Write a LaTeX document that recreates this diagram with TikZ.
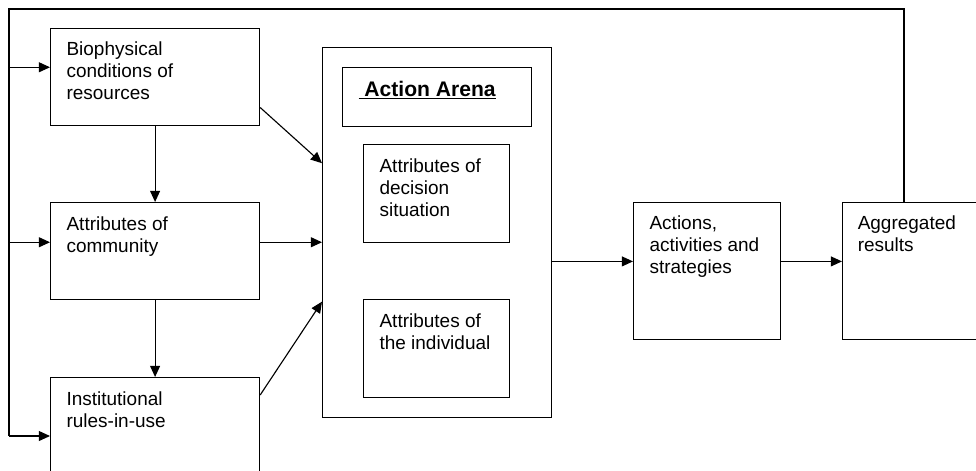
\documentclass[tikz,border=0pt]{standalone}
\usepackage{fontspec}
\setmainfont{Liberation Sans}
\usetikzlibrary{calc,positioning,arrows.meta}

\begin{document}
\begin{tikzpicture}[x=0.025cm,y=-0.025cm,line width=0.8pt,
  box/.style={draw,rectangle,anchor=north west,inner sep=0pt},
  txt/.style={inner sep=0pt,align=left,font=\fontsize{13.5}{15.6}\selectfont},
  arr/.style={-{Triangle[length=0.28cm,width=0.25cm]}}]
  \useasboundingbox (0,0) rectangle (976,470);
  \clip (0,0) rectangle (976,470);
  \node[box,minimum width=5.225cm,minimum height=2.425cm] (bio) at (50,28) {};
  \node[box,minimum width=5.225cm,minimum height=2.425cm] (comm) at (50,202) {};
  \node[box,minimum width=5.225cm,minimum height=2.5cm] (inst) at (50,377) {};
  \node[box,minimum width=5.725cm,minimum height=9.25cm] (arena) at (322,47) {};
  \node[box,minimum width=4.725cm,minimum height=1.475cm] (title) at (342,67) {};
  \node[box,minimum width=3.65cm,minimum height=2.45cm] (dec) at (363,144) {};
  \node[box,minimum width=3.65cm,minimum height=2.45cm] (ind) at (363,299) {};
  \node[box,minimum width=3.675cm,minimum height=3.425cm] (act) at (633,202) {};
  \node[box,minimum width=3.75cm,minimum height=3.425cm] (agg) at (842,202) {};
  \node[txt,below right=0.33cm and 0.4cm of bio.north west] {Biophysical\\conditions of\\resources};
  \node[txt,below right=0.36cm and 0.4cm of comm.north west] {Attributes of\\community};
  \node[txt,below right=0.35cm and 0.4cm of inst.north west] {Institutional\\rules-in-use};
  \node[txt,font=\fontsize{15}{18}\selectfont\bfseries,below right=0.33cm and 0.4cm of title.north west] {\underline{\ Action Arena}};
  \node[txt,below right=0.35cm and 0.4cm of dec.north west] {Attributes of\\decision\\situation};
  \node[txt,below right=0.35cm and 0.4cm of ind.north west] {Attributes of\\the individual};
  \node[txt,below right=0.33cm and 0.4cm of act.north west] {Actions,\\activities and\\strategies};
  \node[txt,below right=0.33cm and 0.38cm of agg.north west] {Aggregated\\results};
  \coordinate (bioin) at ($(bio.north west)!0.4!(bio.south west)$);
  \coordinate (commin) at ($(comm.north west)!0.41!(comm.south west)$);
  \coordinate (instin) at ($(inst.north west)+(0,59)$);
  \coordinate (bioout) at ($(bio.north east)!0.81!(bio.south east)$);
  \coordinate (instout) at ($(inst.north east)+(0,18)$);
  \coordinate (arenain1) at ($(arena.north west)!0.313!(arena.south west)$);
  \coordinate (arenain3) at ($(arena.north west)!0.686!(arena.south west)$);
  \coordinate (actin) at ($(act.north west)!0.43!(act.south west)$);
  \coordinate (fbR) at (904,9);
  \coordinate (fbL) at (9,9);
  \draw (agg.north -| fbR) -- (fbR) -- (fbL) -- (fbL |- instin);
  \draw[arr] (fbL |- bioin) -- (bioin);
  \draw[arr] (fbL |- commin) -- (commin);
  \draw[arr] (fbL |- instin) -- (instin);
  \draw[arr] (bio) -- (comm);
  \draw[arr] (comm) -- (inst);
  \draw[arr] (bioout) -- (arenain1);
  \draw[arr] (comm.east |- commin) -- (arena.west |- commin);
  \draw[arr] (instout) -- (arenain3);
  \draw[arr] (arena.east |- actin) -- (actin);
  \draw[arr] (act.east |- actin) -- (agg.west |- actin);
\end{tikzpicture}
\end{document}
